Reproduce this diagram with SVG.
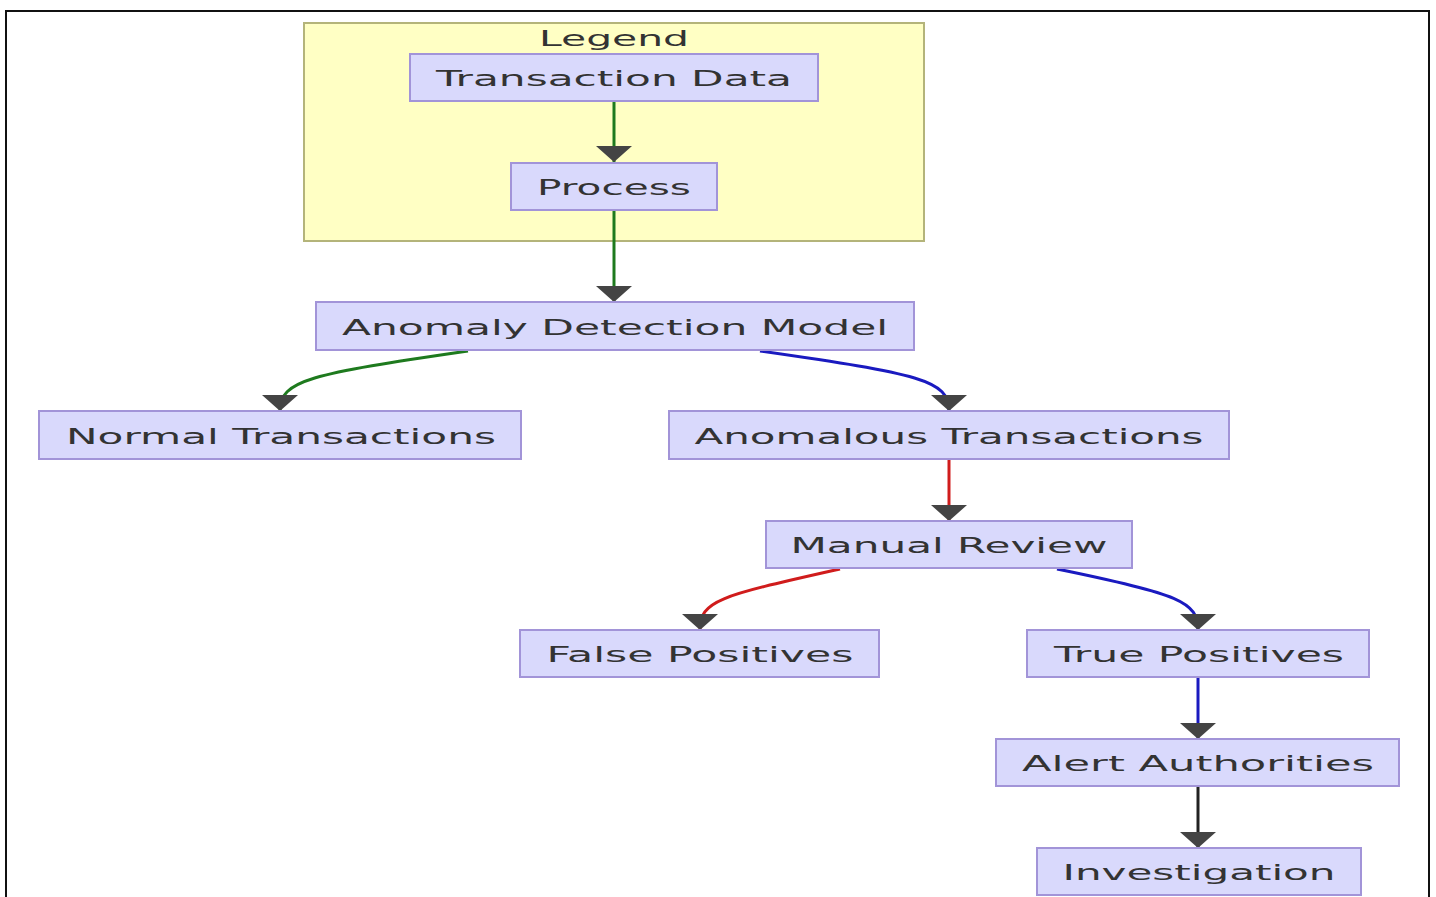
<svg xmlns="http://www.w3.org/2000/svg" width="1436" height="897" viewBox="0 0 1436 897">
<style>
.node rect{fill:#d9d9fc;stroke:#a294d8;stroke-width:2}
text{font-family:"DejaVu Sans","Liberation Sans",sans-serif;font-size:22px;fill:#333;text-anchor:middle}
.edge{fill:none;stroke-width:3}
.g{stroke:#1e7a1e}.b{stroke:#1a1ac0}.r{stroke:#d01c1c}.k{stroke:#222}
</style>
<defs>
<marker id="ah" markerUnits="userSpaceOnUse" viewBox="0 0 16 36" markerWidth="16" markerHeight="36" refX="16" refY="18" orient="auto">
<path d="M0,0 L16,18 L0,36 z" fill="#444"/>
</marker>
</defs>
<rect width="1436" height="897" fill="#fff"/>
<path d="M6,897 V11 H1429 V897" fill="none" stroke="#111" stroke-width="2"/>
<g id="legend">
<rect x="304" y="23" width="620" height="218" fill="#ffffc4" stroke="#b4b47a" stroke-width="2"/>
<text x="614" y="46" textLength="150" lengthAdjust="spacingAndGlyphs">Legend</text>
</g>
<g id="connectors">
<path class="edge g" d="M614,101 V162" marker-end="url(#ah)"/>
<path class="edge g" d="M614,210 V302" marker-end="url(#ah)"/>
<path class="edge g" d="M468,351 C310,374 280,380 280,411" marker-end="url(#ah)"/>
<path class="edge b" d="M760,351 C920,374 949,380 949,411" marker-end="url(#ah)"/>
<path class="edge r" d="M949,459 V521" marker-end="url(#ah)"/>
<path class="edge r" d="M840,569 C720,596 700,600 700,630" marker-end="url(#ah)"/>
<path class="edge b" d="M1057,569 C1180,594 1198,602 1198,630" marker-end="url(#ah)"/>
<path class="edge b" d="M1198,678 V739" marker-end="url(#ah)"/>
<path class="edge k" d="M1198,787 V848" marker-end="url(#ah)"/>
</g>
<g id="n-transaction" class="node"><rect x="410" y="54" width="408" height="47"/><text x="614" y="86" textLength="356" lengthAdjust="spacingAndGlyphs">Transaction Data</text></g>
<g id="n-process" class="node"><rect x="511" y="163" width="206" height="47"/><text x="614" y="195" textLength="154" lengthAdjust="spacingAndGlyphs">Process</text></g>
<g id="n-model" class="node"><rect x="316" y="302" width="598" height="48"/><text x="615" y="335" textLength="546" lengthAdjust="spacingAndGlyphs">Anomaly Detection Model</text></g>
<g id="n-normal" class="node"><rect x="39" y="411" width="482" height="48"/><text x="281" y="444" textLength="430" lengthAdjust="spacingAndGlyphs">Normal Transactions</text></g>
<g id="n-anomalous" class="node"><rect x="669" y="411" width="560" height="48"/><text x="949" y="444" textLength="509" lengthAdjust="spacingAndGlyphs">Anomalous Transactions</text></g>
<g id="n-review" class="node"><rect x="766" y="521" width="366" height="47"/><text x="949" y="553" textLength="317" lengthAdjust="spacingAndGlyphs">Manual Review</text></g>
<g id="n-false" class="node"><rect x="520" y="630" width="359" height="47"/><text x="700" y="662" textLength="307" lengthAdjust="spacingAndGlyphs">False Positives</text></g>
<g id="n-true" class="node"><rect x="1027" y="630" width="342" height="47"/><text x="1199" y="662" textLength="290" lengthAdjust="spacingAndGlyphs">True Positives</text></g>
<g id="n-alert" class="node"><rect x="996" y="739" width="403" height="47"/><text x="1198" y="771" textLength="352" lengthAdjust="spacingAndGlyphs">Alert Authorities</text></g>
<g id="n-investigation" class="node"><rect x="1037" y="848" width="324" height="47"/><text x="1199" y="880" textLength="273" lengthAdjust="spacingAndGlyphs">Investigation</text></g>
</svg>
